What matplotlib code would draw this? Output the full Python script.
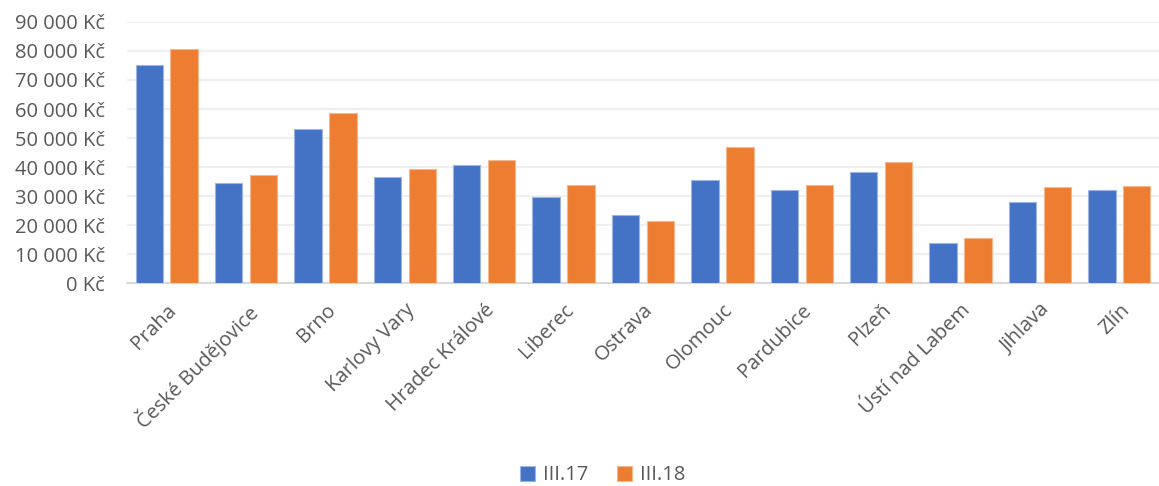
import matplotlib.pyplot as plt
import numpy as np
from matplotlib.ticker import FuncFormatter

plt.rcParams['font.family'] = ['Open Sans', 'DejaVu Sans']

mesta = ['Praha', 'České Budějovice', 'Brno', 'Karlovy Vary', 'Hradec Králové',
         'Liberec', 'Ostrava', 'Olomouc', 'Pardubice', 'Plzeň',
         'Ústí nad Labem', 'Jihlava', 'Zlín']
ceny_17 = [75300, 34400, 53100, 36600, 40700, 29800, 23400, 35500, 32000, 38200, 14000, 28000, 32000]
ceny_18 = [80800, 37150, 58500, 39300, 42500, 33900, 21300, 47100, 33700, 41600, 15700, 33200, 33400]
serie = ['III.17', 'III.18']

modra = '#4472C4'
oranzova = '#ED7D31'
seda = '#595959'

fig = plt.figure(figsize=(11.59, 4.86), dpi=100)
ax = fig.add_axes([0.1096, 0.417, 0.8904, 0.538])

x = np.arange(len(mesta))
sirka = 0.345
ax.bar(x - 0.22, ceny_17, sirka, color=modra, edgecolor='#9DB5E3', linewidth=0.8,
       label=serie[0], zorder=3)
ax.bar(x + 0.22, ceny_18, sirka, color=oranzova, edgecolor='#F5B88E', linewidth=0.8,
       label=serie[1], zorder=3)

ax.set_xlim(-0.5, len(mesta) - 0.5)
ax.set_ylim(0, 90000)
ax.set_yticks(np.arange(0, 90001, 10000))
ax.yaxis.set_major_formatter(FuncFormatter(lambda v, p: f'{int(v):,} Kč'.replace(',', ' ')))
ax.grid(axis='y', color='#EFEFEF', linewidth=1.5, zorder=0)

for s in ['top', 'right', 'left']:
    ax.spines[s].set_visible(False)
ax.spines['bottom'].set_color('#D9D9D9')
ax.spines['bottom'].set_linewidth(1.5)

ax.set_xticks(x)
ax.set_xticklabels(mesta, rotation=45, ha='right', rotation_mode='anchor')
ax.tick_params(axis='both', length=0, labelsize=14.5, labelcolor=seda)
ax.tick_params(axis='x', pad=12)
ax.tick_params(axis='y', pad=16)
for t in ax.get_xticklabels():
    t.set_x(0)

fig.legend(loc='center', bbox_to_anchor=(0.52, 0.022), ncol=2, frameon=False,
           fontsize=14.5, labelcolor=seda, handlelength=0.75, handleheight=0.75,
           handletextpad=0.4, columnspacing=1.4)

fig.savefig('out.png', dpi=100)
